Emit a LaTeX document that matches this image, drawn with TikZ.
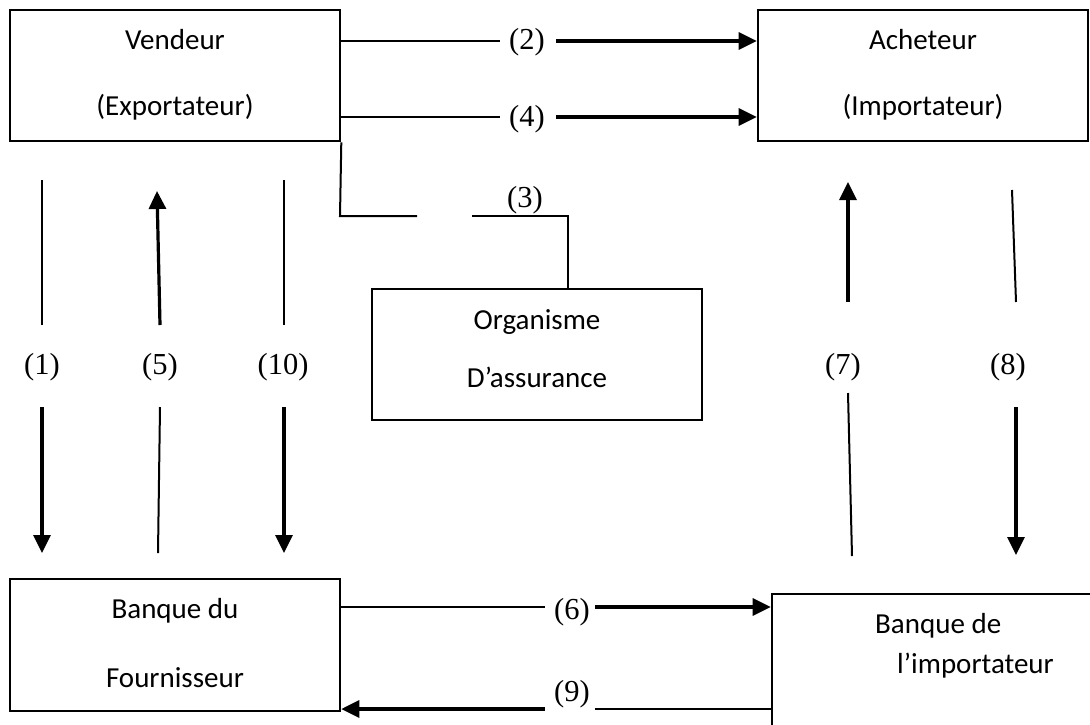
\documentclass[tikz,border=0pt]{standalone}
\usepackage{fontspec}
\setmainfont{Carlito}
\newfontfamily\labfont{Liberation Serif}
\usetikzlibrary{arrows.meta}
\begin{document}
\begin{tikzpicture}[x=1pt,y=-1pt,
  box/.style={draw, line width=2.6pt, inner sep=0pt, minimum width=330pt, minimum height=131pt},
  txt/.style={font=\fontsize{29}{33}\selectfont, inner sep=0pt, anchor=base},
  lab/.style={font=\labfont\fontsize{30.5}{34}\selectfont, inner sep=0pt},
  thinline/.style={line width=2pt},
  thickarrow/.style={line width=3.2pt, -{Triangle[length=18pt,width=17pt]}},
  thickline/.style={line width=3.2pt}
]
\useasboundingbox (0,0) rectangle (1090,724);
\clip (0,0) rectangle (1090,724);
% boxes
\node[box] (vend) at (175,75.5) {};
\node[box] (ach) at (923,75.5) {};
\node[box] (org) at (537,354.5) {};
\node[box, minimum height=132pt] (bf) at (175,645) {};
\node[box, minimum height=140pt] (bi) at (937,664) {};
% texts
\node[txt] (tv1) at (175,49) {Vendeur};
\node[txt] (tv2) at (175,115) {(Exportateur)};
\node[txt] (ta1) at (923,49) {Acheteur};
\node[txt] (ta2) at (923,115) {(Importateur)};
\node[txt] (to1) at (537,329) {Organisme};
\node[txt] (to2) at (537,387) {D’assurance};
\node[txt] (tb1) at (175,618) {Banque du};
\node[txt] (tb2) at (175,687) {Fournisseur};
\node[txt, anchor=base west] (tc1) at (875,633) {Banque de};
\node[txt, anchor=base west] (tc2) at (897,673) {l’importateur};
% labels
\node[lab] (l2) at (527,42) {(2)};
\node[lab] (l4) at (527,119) {(4)};
\node[lab] (l3) at (525,200) {(3)};
\node[lab] (l1) at (42,367) {(1)};
\node[lab] (l5) at (160,367) {(5)};
\node[lab] (l10) at (283,367) {(10)};
\node[lab] (l7) at (843,367) {(7)};
\node[lab] (l8) at (1008,367) {(8)};
\node[lab] (l6) at (572,612) {(6)};
\node[lab] (l9) at (572,694) {(9)};
% coordinates
\coordinate (a2) at (500,41);  \coordinate (b2) at (556,41);
\coordinate (a4) at (500,117); \coordinate (b4) at (556,117);
\coordinate (a6) at (545,607); \coordinate (b6) at (595,607);
\coordinate (a9) at (595,709); \coordinate (b9) at (545,709);
\coordinate (c3a) at (340,216); \coordinate (c3b) at (417,216);
\coordinate (c3c) at (472,216); \coordinate (c3d) at (568,216);
\coordinate (p1a) at (42,180);  \coordinate (p1b) at (42,325);
\coordinate (p1c) at (42,407);  \coordinate (p1d) at (42,553);
\coordinate (p5a) at (157,191); \coordinate (p5b) at (160,325);
\coordinate (p5c) at (160,407); \coordinate (p5d) at (158,553);
\coordinate (p10a) at (284,180); \coordinate (p10b) at (284,325);
\coordinate (p10c) at (284,407); \coordinate (p10d) at (284,553);
\coordinate (p7a) at (848,182); \coordinate (p7b) at (848,302);
\coordinate (p7c) at (848,393); \coordinate (p7d) at (852,556);
\coordinate (p8a) at (1012,190); \coordinate (p8b) at (1016,302);
\coordinate (p8c) at (1016,407); \coordinate (p8d) at (1016,555);
% (2) and (4)
\draw[thinline] (vend.east |- a2) -- (a2);
\draw[thickarrow] (b2) -- (ach.west |- b2);
\draw[thinline] (vend.east |- a4) -- (a4);
\draw[thickarrow] (b4) -- (ach.west |- b4);
% (3)
\draw[thinline] (vend.south east) -- (c3a) -- (c3b);
\draw[thinline] (c3c) -- (c3d) -- (c3d |- org.north);
% (6) and (9)
\draw[thinline] (bf.east |- a6) -- (a6);
\draw[thickarrow] (b6) -- (bi.west |- b6);
\draw[thinline] (bi.west |- a9) -- (a9);
\draw[thickarrow] (b9) -- (bf.east |- b9);
% (1)
\draw[thinline] (p1a) -- (p1b);
\draw[thickarrow] (p1c) -- (p1d);
% (5)
\draw[thickarrow] (p5b) -- (p5a);
\draw[thinline] (p5c) -- (p5d);
% (10)
\draw[thinline] (p10a) -- (p10b);
\draw[thickarrow] (p10c) -- (p10d);
% (7)
\draw[thickarrow] (p7b) -- (p7a);
\draw[thinline] (p7c) -- (p7d);
% (8)
\draw[thinline] (p8a) -- (p8b);
\draw[thickarrow] (p8c) -- (p8d);
\end{tikzpicture}
\end{document}
